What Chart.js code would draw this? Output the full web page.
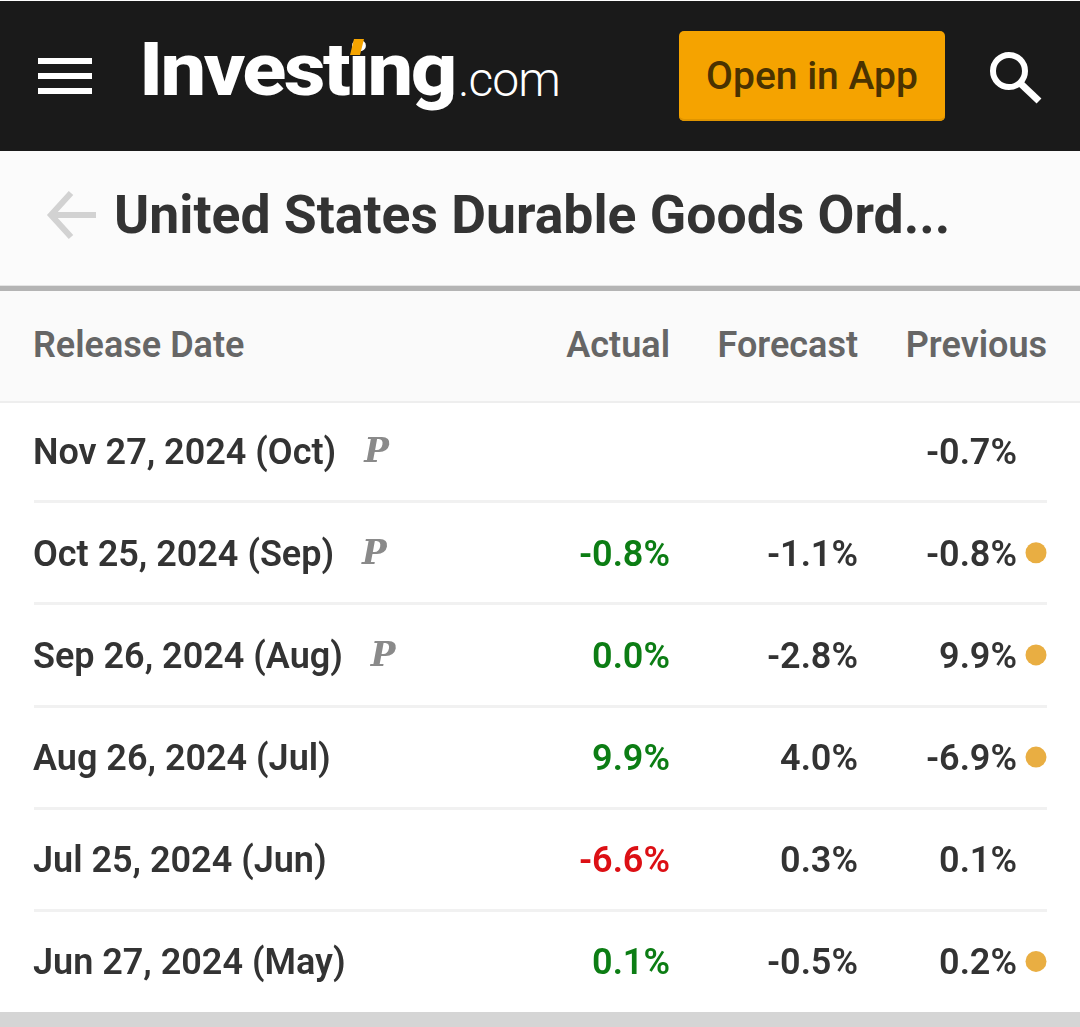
<!DOCTYPE html>
<html>
<head>
<meta charset="utf-8">
<script src="https://cdn.jsdelivr.net/npm/chart.js@4/dist/chart.umd.js"></script>
<style>
  html, body { margin: 0; padding: 0; background: #fff; }
  body { width: 1080px; height: 1027px; position: relative; overflow: hidden; font-family: Roboto, sans-serif; color: #333; }
  .abs { position: absolute; white-space: nowrap; }
  #top { left: 0; top: 1px; width: 1080px; height: 150px; background: #1a1a1a; }
  .bar { left: 38px; width: 54px; height: 6px; background: #fff; }
  #logo { left: 139px; top: 27px; color: #fff; font-size: 75px; font-weight: 800; letter-spacing: -2.4px; line-height: 84px; transform: scaleX(1.085); transform-origin: left top; }
  #logo-com { left: 458px; top: 50px; color: #fff; font-size: 48px; font-weight: 300; letter-spacing: -1px; line-height: 60px; }
  #logo-tick { left: 352px; top: 39px; width: 10px; height: 16px; background: #f5a400; transform: skewX(-14deg); }
  #app { left: 679px; top: 31px; width: 266px; height: 90px; background: #f5a300; border-radius: 5px; box-shadow: inset 0 -2px 0 #e09500; color: #4a3200; font-size: 39px; font-weight: 500; line-height: 90px; text-align: center; }
  #band { left: 0; top: 151px; width: 1080px; height: 134px; background: #fbfbfb; }
  #title { left: 114px; top: 184px; font-size: 53.5px; font-weight: 700; line-height: 62px; color: #333; }
  #rule { left: 0; top: 285px; width: 1080px; height: 6px; background: #b4b4b4; border-top: 1px solid #e4e4e4; box-sizing: border-box; }
  #head { left: 0; top: 291px; width: 1080px; height: 110px; background: #fafafa; border-bottom: 2px solid #eee; }
  .th { top: 325px; font-size: 36px; font-weight: 600; line-height: 40px; color: #666; }
  #wrap { left: 0; top: 389px; width: 1080px; height: 634px; }
  #foot { left: 0; top: 1012px; width: 1080px; height: 15px; background: #d5d5d5; }
</style>
</head>
<body>
<div class="abs" id="top"></div>
<div class="abs bar" style="top:58px"></div>
<div class="abs bar" style="top:73px"></div>
<div class="abs bar" style="top:88px"></div>
<div class="abs" id="logo">Investing</div>
<div class="abs" id="logo-tick"></div>
<div class="abs" id="logo-com">.com</div>
<div class="abs" id="app">Open in App</div>
<svg class="abs" style="left:985px;top:48px" width="60" height="58" viewBox="0 0 60 58">
  <circle cx="24" cy="23" r="16" fill="none" stroke="#fff" stroke-width="6"/>
  <line x1="35" y1="35" x2="54" y2="53" stroke="#fff" stroke-width="7"/>
</svg>
<div class="abs" id="band"></div>
<svg class="abs" style="left:46px;top:190px" width="52" height="50" viewBox="0 0 52 50">
  <path d="M25 3 L5 25 L25 47 M5 25 L50 25" fill="none" stroke="#d2d2d2" stroke-width="6"/>
</svg>
<div class="abs" id="title">United States Durable Goods Ord...</div>
<div class="abs" id="rule"></div>
<div class="abs" id="head"></div>
<div class="abs th" style="left:33px">Release Date</div>
<div class="abs th" style="right:410px">Actual</div>
<div class="abs th" style="right:222px">Forecast</div>
<div class="abs th" style="right:33px">Previous</div>
<div class="abs" id="foot"></div>
<div class="abs" id="wrap"><canvas id="table"></canvas></div>

<script>
const releaseDates = [
  "Nov 27, 2024 (Oct)",
  "Oct 25, 2024 (Sep)",
  "Sep 26, 2024 (Aug)",
  "Aug 26, 2024 (Jul)",
  "Jul 25, 2024 (Jun)",
  "Jun 27, 2024 (May)"
];
const actual = [null, -0.8, 0.0, 9.9, -6.6, 0.1];
const forecast = [null, -1.1, -2.8, 4.0, 0.3, -0.5];
const previous = [-0.7, -0.8, 9.9, -6.9, 0.1, 0.2];
const preliminary = [true, true, true, false, false, false];
const revised = [false, true, true, true, false, true];

// right edge of each text column, and of the revised dots
const actualRight = 670;
const forecastRight = 858;
const previousRight = 1017;
const dotCentre = 1036;

const cellFont = "600 36px Roboto";
const dark = "#333";
const textDrop = 4;

function cellText(v) {
  return v === null ? "" : v.toFixed(1) + "%";
}

function actualColour(i) {
  return actual[i] < forecast[i] ? "#dc0f14" : "#0c7d14";
}

const cellsPlugin = {
  id: "cells",
  afterDatasetsDraw(chart) {
    const ctx = chart.ctx;
    const y = chart.scales.y;
    const x = chart.scales.x;
    ctx.save();
    ctx.textBaseline = "middle";
    releaseDates.forEach((d, i) => {
      const py = y.getPixelForValue(i) + textDrop;
      ctx.font = cellFont;
      ctx.textAlign = "right";
      ctx.fillStyle = actualColour(i);
      ctx.fillText(cellText(actual[i]), x.getPixelForValue(actualRight), py);
      ctx.fillStyle = dark;
      ctx.fillText(cellText(forecast[i]), x.getPixelForValue(forecastRight), py);
      ctx.fillText(cellText(previous[i]), x.getPixelForValue(previousRight), py);
      if (preliminary[i]) {
        const w = ctx.measureText(d).width;
        ctx.font = "italic 700 33px 'DejaVu Serif'";
        ctx.textAlign = "left";
        ctx.fillStyle = "#8a8a8a";
        ctx.fillText("P", x.left + w + 27, py - 1);
      }
    });
    ctx.restore();
  }
};

new Chart(document.getElementById("table"), {
  type: "scatter",
  data: {
    labels: releaseDates,
    datasets: [
      {
        label: "Revised",
        data: releaseDates
          .map((d, i) => ({ x: dotCentre, y: d, on: revised[i] }))
          .filter(p => p.on),
        pointRadius: 10.5,
        pointHoverRadius: 10.5,
        pointBorderWidth: 0,
        backgroundColor: "#e9ae42",
        borderColor: "#e9ae42"
      }
    ]
  },
  plugins: [cellsPlugin],
  options: {
    responsive: true,
    maintainAspectRatio: false,
    animation: false,
    events: [],
    layout: { padding: { left: 34, right: 33, top: 0, bottom: 0 } },
    plugins: {
      legend: { display: false },
      tooltip: { enabled: false },
      title: { display: false }
    },
    scales: {
      x: { type: "linear", min: 34, max: 1047, display: false },
      y: {
        type: "category",
        labels: releaseDates,
        offset: true,
        position: "left",
        border: { display: false },
        grid: {
          offset: true,
          drawTicks: false,
          lineWidth: 3,
          // the closing line has no tick, so its context has no index
          color: c => (c.index === 0 || c.index === undefined ? "rgba(0,0,0,0)" : "#f1f1f1")
        },
        afterFit: s => {
          s.width = 0;
          s.paddingTop = 0;
          s.paddingBottom = 0;
        },
        ticks: {
          mirror: true,
          padding: -1,
          labelOffset: textDrop,
          color: dark,
          font: { family: "Roboto", size: 36, weight: "600" }
        }
      }
    }
  }
});
</script>
</body>
</html>
